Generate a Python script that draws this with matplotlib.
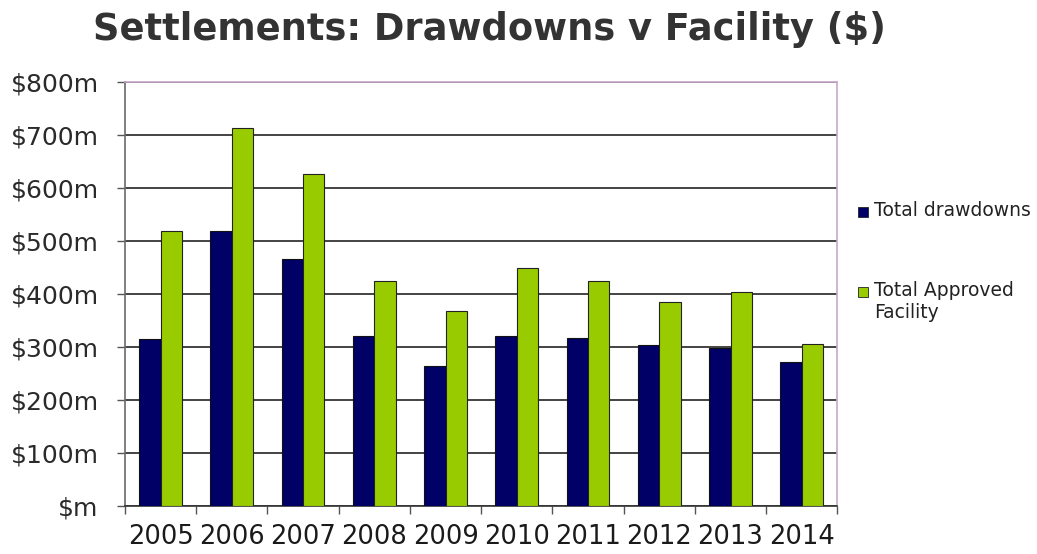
import matplotlib
matplotlib.use("Agg")
import matplotlib.pyplot as plt
from matplotlib.patches import Rectangle
import numpy as np

years = ["2005", "2006", "2007", "2008", "2009", "2010", "2011", "2012", "2013", "2014"]
drawdowns = [315, 519, 465, 321, 264, 321, 317, 304, 297, 272]
approved = [518, 713, 626, 425, 367, 448, 425, 384, 403, 306]
series_names = ["Total drawdowns", "Total Approved\nFacility"]
series_colors = ["#000066", "#99CC00"]
y_ticks = [0, 100, 200, 300, 400, 500, 600, 700, 800]
y_labels = ["$m", "$100m", "$200m", "$300m", "$400m", "$500m", "$600m", "$700m", "$800m"]

plt.rcParams["font.family"] = ["DejaVu Sans"]

fig = plt.figure(figsize=(10.37, 5.54), dpi=100)
ax = fig.add_axes([0.1205, 0.0866, 0.687, 0.766])

x = np.arange(len(years))
w = 0.3
ax.bar(x - w / 2, drawdowns, width=w, color=series_colors[0], edgecolor="#111111",
       linewidth=0.8, zorder=3)
ax.bar(x + w / 2, approved, width=w, color=series_colors[1], edgecolor="#222222",
       linewidth=0.8, zorder=3)

ax.set_xlim(-0.5, len(years) - 0.5)
ax.set_ylim(0, 800)
ax.set_yticks(y_ticks)
ax.set_yticklabels(y_labels)
ax.yaxis.grid(True, color="#111111", linewidth=1.1, zorder=0)
ax.set_axisbelow(True)

# category labels centred, tick marks on category boundaries
ax.set_xticks(x)
ax.set_xticklabels(years)
ax.set_xticks(np.arange(-0.5, len(years), 1.0), minor=True)
ax.tick_params(axis="x", which="major", length=0, pad=13, labelsize=18.5, colors="#1a1a1a")
ax.tick_params(axis="x", which="minor", length=6, width=1, color="#555555")
ax.tick_params(axis="y", length=6, width=1, color="#555555", pad=13,
               labelsize=18, labelcolor="#2a2a2a")

for side in ("top", "right"):
    ax.spines[side].set_color("#C8A8C8")
    ax.spines[side].set_linewidth(1.2)
ax.spines["left"].set_color("#6a6a6a")
ax.spines["left"].set_linewidth(1.2)
ax.spines["bottom"].set_color("#333333")
ax.spines["bottom"].set_linewidth(1.2)

fig.text(0.4715, 0.946, "Settlements: Drawdowns v Facility ($)", ha="center", va="center",
         fontsize=26.5, fontweight="bold", color="#333333")

# legend
legend_rows = [212, 292]
for name, color, ypix in zip(series_names, series_colors, legend_rows):
    fy = 1 - ypix / 554
    fig.patches.append(Rectangle((858 / 1037, fy - 5 / 554), 10 / 1037, 10 / 554,
                                 transform=fig.transFigure, facecolor=color,
                                 edgecolor="#222222", linewidth=0.6))
    fig.text(874 / 1037, fy + 11 / 554, name, ha="left", va="top", fontsize=13.5,
             color="#222222", linespacing=1.2)

fig.savefig("out.png", dpi=100)
